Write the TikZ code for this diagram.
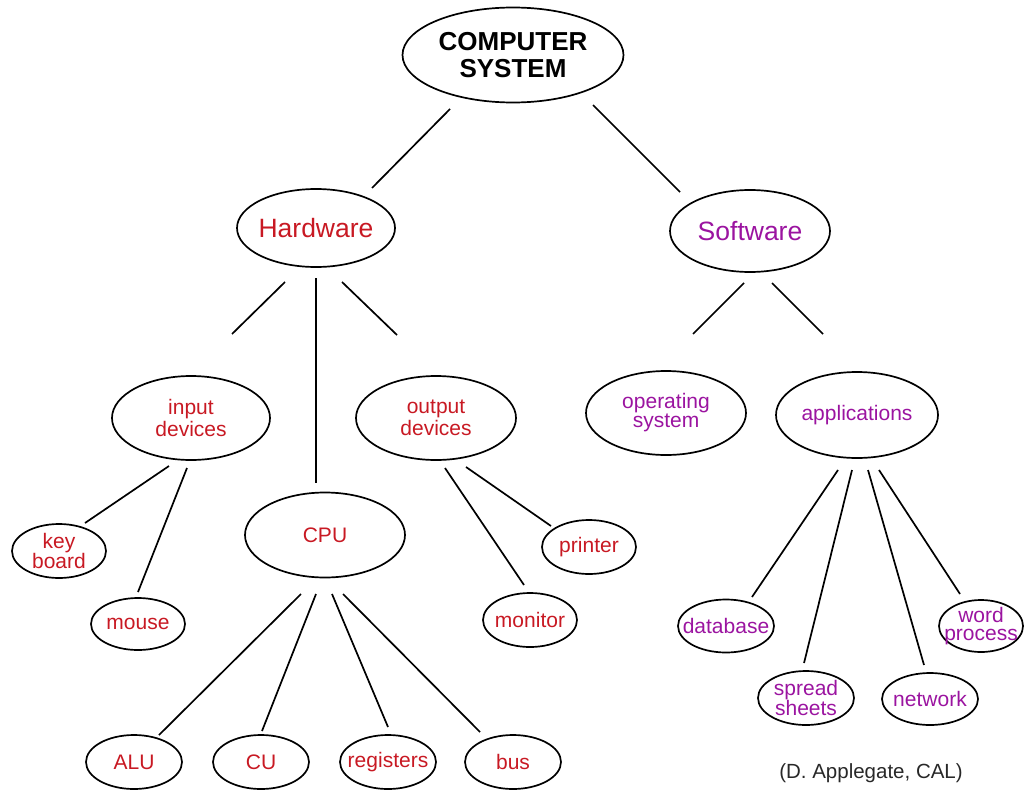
\documentclass[tikz,border=0pt]{standalone}
\usepackage{fontspec}
\setmainfont{Liberation Sans}
\usetikzlibrary{shapes.geometric}
\definecolor{hwred}{RGB}{200,25,35}
\definecolor{swpurple}{RGB}{155,20,160}
\definecolor{credit}{RGB}{40,40,40}

\begin{document}
\begin{tikzpicture}[x=1pt,y=-1pt,
  oval/.style 2 args={draw=black, line width=1.7pt, ellipse, inner sep=0pt,
    minimum width=#1pt, minimum height=#2pt},
  conn/.style={draw=black, line width=1.7pt},
  toptext/.style={font=\fontsize{26}{27}\selectfont\bfseries, align=center, text=black},
  hwbig/.style={font=\fontsize{26.5}{28}\selectfont, text=hwred},
  swbig/.style={font=\fontsize{26.5}{28}\selectfont, text=swpurple},
  hwtxt/.style={font=\fontsize{21}{#1}\selectfont, text=hwred, align=center},
  swtxt/.style={font=\fontsize{21}{#1}\selectfont, text=swpurple, align=center},
  hwtxt/.default=21, swtxt/.default=21]

\useasboundingbox (0,0) rectangle (1024,789);

% ---- ovals ----
\node[oval={221}{95}, label={[toptext]center:COMPUTER\\SYSTEM}] (cs) at (513,55) {};

\node[oval={158}{78}, label={[hwbig]center:Hardware}] (hw) at (316,228) {};
\node[oval={160}{82}, label={[swbig]center:Software}] (sw) at (750,231) {};

\node[oval={158}{84}, label={[hwtxt=22]center:input\\devices}] (in) at (191,418) {};
\node[oval={160}{84}, label={[hwtxt=22]center:output\\devices}] (out) at (436,418) {};
\node[oval={160}{85}, label={[hwtxt]center:CPU}] (cpu) at (325,535) {};

\node[oval={94}{54}, label={[hwtxt=18]center:key\\board}] (kb) at (59,551) {};
\node[oval={94}{52}, label={[hwtxt]center:mouse}] (mouse) at (138,624) {};
\node[oval={94}{54}, label={[hwtxt]center:printer}] (printer) at (589,547) {};
\node[oval={94}{54}, label={[hwtxt]center:monitor}] (monitor) at (530,620) {};

\node[oval={96}{54}, label={[hwtxt]center:ALU}] (alu) at (134,762) {};
\node[oval={96}{54}, label={[hwtxt]center:CU}] (cu) at (261,762) {};
\node[oval={96}{54}, label={[hwtxt]center:registers}] (reg) at (388,762) {};
\node[oval={96}{54}, label={[hwtxt]center:bus}] (bus) at (513,762) {};

\node[oval={160}{84}, label={[swtxt=19]center:operating\\system}] (os) at (666,413) {};
\node[oval={162}{86}, label={[swtxt]center:applications}] (app) at (857,415) {};

\node[oval={96}{53}, label={[swtxt]center:database}] (db) at (726,626) {};
\node[oval={96}{54}, label={[swtxt=18]center:spread\\sheets}] (sp) at (806,698) {};
\node[oval={96}{52}, label={[swtxt]center:network}] (net) at (930,699) {};
\node[oval={84}{52}, label={[swtxt=17.5]center:word\\process}] (wp) at (981,626) {};

\node[font=\fontsize{20.5}{22}\selectfont, text=credit] (credit) at (871,773) {(D. Applegate, CAL)};

% ---- connectors (free-standing strokes between the ovals) ----
\draw[conn] ([shift={(-63,54)}]cs.center) -- ([shift={(56,-40)}]hw.center);
\draw[conn] ([shift={(80,50)}]cs.center) -- ([shift={(-70,-39)}]sw.center);

\draw[conn] ([shift={(-31,54)}]hw.center) -- ([shift={(41,-84)}]in.center);
\draw[conn] ([shift={(0,50)}]hw.center) -- ([shift={(-9,-52)}]cpu.center);
\draw[conn] ([shift={(26,54)}]hw.center) -- ([shift={(-39,-83)}]out.center);

\draw[conn] ([shift={(-6,52)}]sw.center) -- ([shift={(27,-79)}]os.center);
\draw[conn] ([shift={(22,52)}]sw.center) -- ([shift={(-34,-81)}]app.center);

\draw[conn] ([shift={(-22,48)}]in.center) -- ([shift={(26,-28)}]kb.center);
\draw[conn] ([shift={(-4,50)}]in.center) -- ([shift={(0,-32)}]mouse.center);

\draw[conn] ([shift={(9,50)}]out.center) -- ([shift={(-6,-35)}]monitor.center);
\draw[conn] ([shift={(30,49)}]out.center) -- ([shift={(-38,-21)}]printer.center);

\draw[conn] ([shift={(-24,59)}]cpu.center) -- ([shift={(25,-27)}]alu.center);
\draw[conn] ([shift={(-9,59)}]cpu.center) -- ([shift={(1,-31)}]cu.center);
\draw[conn] ([shift={(7,59)}]cpu.center) -- ([shift={(0,-35)}]reg.center);
\draw[conn] ([shift={(18,59)}]cpu.center) -- ([shift={(-33,-30)}]bus.center);

\draw[conn] ([shift={(-19,55)}]app.center) -- ([shift={(26,-29)}]db.center);
\draw[conn] ([shift={(-5,55)}]app.center) -- ([shift={(-2,-35)}]sp.center);
\draw[conn] ([shift={(11,55)}]app.center) -- ([shift={(-6,-34)}]net.center);
\draw[conn] ([shift={(22,55)}]app.center) -- ([shift={(-21,-32)}]wp.center);

\end{tikzpicture}
\end{document}
